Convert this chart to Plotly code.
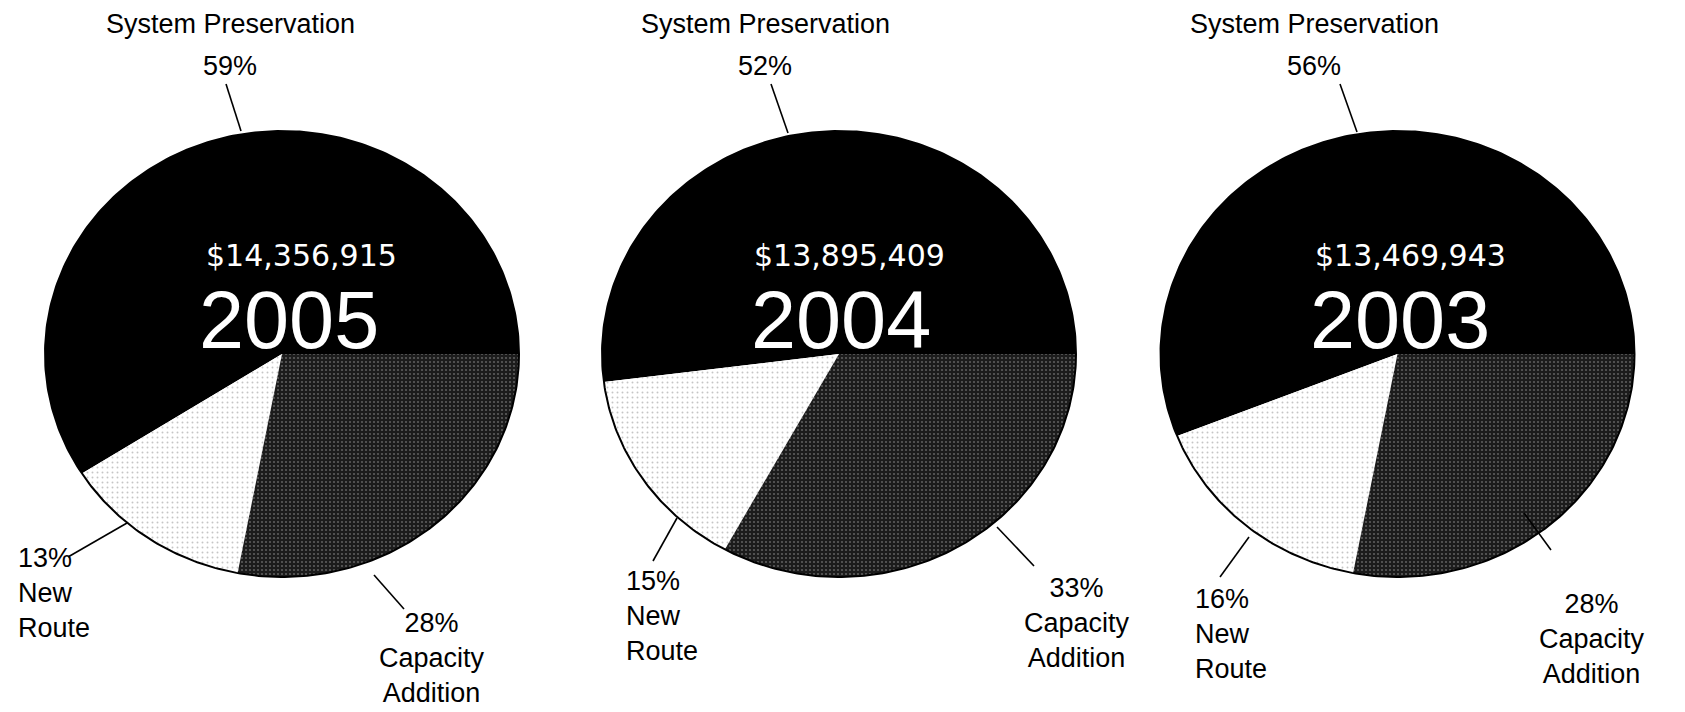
import numpy as np
import plotly.graph_objects as go

# ---------------- data ----------------
years = ["2005", "2004", "2003"]
totals = ["$14,356,915", "$13,895,409", "$13,469,943"]
categories = ["System Preservation", "New Route", "Capacity Addition"]
system_preservation = [59, 52, 56]
new_route = [13, 15, 16]
capacity_addition = [28, 33, 28]

# ---------------- layout geometry (pixels) ----------------
W, H = 1685, 712
CX = [282, 839, 1397.5]
CY = 354
RX, RY = 237, 223
PANEL = [(0, 560), (560, 1120), (1120, 1685)]

FONT = "Liberation Sans, Arial, Helvetica, sans-serif"

slice_style = {
    "System Preservation": dict(fillcolor="#000000"),
    "New Route": dict(fillcolor="#f2f2f2",
                      fillpattern=dict(shape=".", bgcolor="#ffffff", fgcolor="#8c8c8c",
                                       size=5, solidity=0.12)),
    "Capacity Addition": dict(fillcolor="#2a2a2a",
                              fillpattern=dict(shape=".", bgcolor="#1c1c1c", fgcolor="#9d9d9d",
                                               size=4, solidity=0.22)),
}

fig = go.Figure()

for i in range(3):
    vals = [system_preservation[i], new_route[i], capacity_addition[i]]
    total = sum(vals)
    xa = "x" if i == 0 else f"x{i+1}"
    ya = "y" if i == 0 else f"y{i+1}"
    start = 0.0
    for cat, v in zip(categories, vals):
        span = 2 * np.pi * v / total
        th = np.linspace(start, start + span, max(int(v * 4), 8))
        xs = np.concatenate([[0.0], np.cos(th), [0.0]])
        ys = np.concatenate([[0.0], np.sin(th), [0.0]])
        fig.add_trace(go.Scatter(
            x=xs, y=ys, mode="lines", fill="toself",
            line=dict(width=0, color="rgba(0,0,0,0)"),
            name=cat, showlegend=False, hoverinfo="name",
            xaxis=xa, yaxis=ya, **slice_style[cat]))
        start += span
    th = np.linspace(0, 2 * np.pi, 400)
    fig.add_trace(go.Scatter(x=np.cos(th), y=np.sin(th), mode="lines",
                             line=dict(color="#000000", width=2),
                             showlegend=False, hoverinfo="skip",
                             xaxis=xa, yaxis=ya))

axes = {}
for i in range(3):
    p0, p1 = PANEL[i]
    sx = "xaxis" if i == 0 else f"xaxis{i+1}"
    sy = "yaxis" if i == 0 else f"yaxis{i+1}"
    axes[sx] = dict(domain=[p0 / W, p1 / W], range=[(p0 - CX[i]) / RX, (p1 - CX[i]) / RX],
                    visible=False, fixedrange=True,
                    anchor="y" if i == 0 else f"y{i+1}")
    axes[sy] = dict(domain=[0, 1], range=[(CY - H) / RY, CY / RY],
                    visible=False, fixedrange=True,
                    anchor="x" if i == 0 else f"x{i+1}")


def px(x):
    return x / W


def py(y):
    return 1 - y / H


annotations = []
shapes = []

# label placements (pixels)
top_label_x = [230, 765, 1314]
top_leader = [((226, 84), (241, 131)), ((771, 84), (788, 133)), ((1340, 84), (1357, 132))]
nr_label = [(16, 593), (624, 616), (1193, 634)]
nr_leader = [((68, 557), (127, 523)), ((653, 561), (677, 518)), ((1220, 577), (1249, 537))]
ca_label = [(432, 658), (1077, 623), (1592, 639)]
ca_leader = [((374, 575), (404, 609)), ((997, 527), (1034, 566)), ((1524, 513), (1551, 550))]
total_pos = [(301, 255), (849, 255), (1410, 255)]
year_pos = [(289, 320), (841, 320), (1400, 320)]

lab_font = dict(family=FONT, size=27, color="#000000")

for i in range(3):
    annotations.append(dict(x=px(top_label_x[i]), y=py(24), xref="paper", yref="paper",
                            text=categories[0], showarrow=False, font=lab_font,
                            xanchor="center", yanchor="middle"))
    annotations.append(dict(x=px(top_label_x[i]), y=py(66), xref="paper", yref="paper",
                            text=f"{system_preservation[i]}%", showarrow=False, font=lab_font,
                            xanchor="center", yanchor="middle"))
    annotations.append(dict(x=px(nr_label[i][0]), y=py(nr_label[i][1]), xref="paper", yref="paper",
                            text=f"{new_route[i]}%<br>New<br>Route", showarrow=False,
                            font=lab_font, align="left", xanchor="left", yanchor="middle"))
    annotations.append(dict(x=px(ca_label[i][0]), y=py(ca_label[i][1]), xref="paper", yref="paper",
                            text=f"{capacity_addition[i]}%<br>Capacity<br>Addition", showarrow=False,
                            font=lab_font, align="center", xanchor="center", yanchor="middle"))
    annotations.append(dict(x=px(total_pos[i][0]), y=py(total_pos[i][1]), xref="paper", yref="paper",
                            text=totals[i], showarrow=False,
                            font=dict(family="DejaVu Sans, sans-serif", size=30, color="#ffffff"),
                            xanchor="center", yanchor="middle"))
    annotations.append(dict(x=px(year_pos[i][0]), y=py(year_pos[i][1]), xref="paper", yref="paper",
                            text=years[i], showarrow=False,
                            font=dict(family=FONT, size=81, color="#ffffff"),
                            xanchor="center", yanchor="middle"))
    for (a, b) in (top_leader[i], nr_leader[i], ca_leader[i]):
        shapes.append(dict(type="line", xref="paper", yref="paper",
                           x0=px(a[0]), y0=py(a[1]), x1=px(b[0]), y1=py(b[1]),
                           line=dict(color="#000000", width=1.6)))

fig.update_layout(
    width=W, height=H, autosize=False,
    margin=dict(l=0, r=0, t=0, b=0),
    paper_bgcolor="#ffffff", plot_bgcolor="rgba(0,0,0,0)",
    showlegend=False,
    annotations=annotations, shapes=shapes,
    **axes,
)

fig.write_html("out.html", config={"displayModeBar": False},
               post_script="document.body.style.margin='0';")
